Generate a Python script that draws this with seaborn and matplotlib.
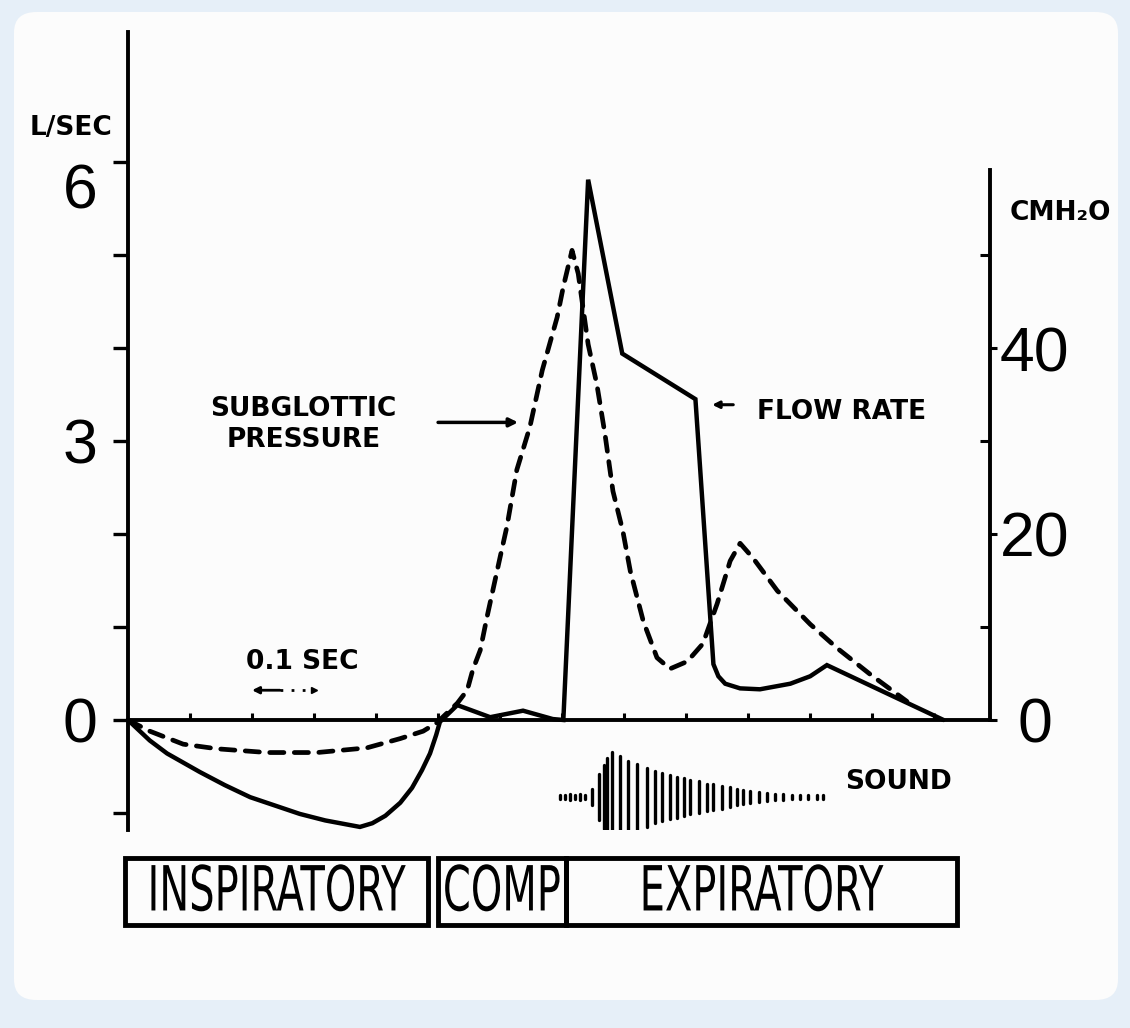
import matplotlib
matplotlib.use("Agg")
import matplotlib.pyplot as plt
from matplotlib.patches import FancyBboxPatch
from matplotlib import patheffects
from matplotlib.transforms import Affine2D
import seaborn as sns
import numpy as np
import pandas as pd

# ------------------------------------ Dados ------------------------------------

# Fluxo (L/s) - linha cheia, tempo em segundos
tempo_fluxo = [0.0, 0.035, 0.063, 0.116, 0.156, 0.197, 0.237, 0.277, 0.318, 0.358, 0.374,
               0.394, 0.415, 0.439, 0.458, 0.474, 0.487, 0.497, 0.503,
               0.531, 0.584, 0.637, 0.685, 0.702, 0.742, 0.797, 0.915, 0.944,
               0.952, 0.963, 0.987, 1.019, 1.068, 1.100, 1.127, 1.315]
fluxo = [0.0, -0.22, -0.36, -0.56, -0.70, -0.83, -0.92, -1.01, -1.08, -1.13, -1.15,
         -1.11, -1.03, -0.89, -0.73, -0.54, -0.36, -0.16, -0.02,
         0.16, 0.03, 0.10, 0.01, 0.0, 5.81, 3.94, 3.45, 0.60,
         0.47, 0.39, 0.34, 0.33, 0.39, 0.47, 0.59, 0.0]

# Pressao subglotica (cmH2O) - linha tracejada
tempo_pressao = [0.0, 0.035, 0.089, 0.144, 0.224, 0.305, 0.385, 0.439, 0.476, 0.498,
                 0.531, 0.547, 0.556, 0.568, 0.579, 0.600, 0.611, 0.627, 0.648, 0.668,
                 0.692, 0.702, 0.716, 0.726, 0.742, 0.756, 0.769, 0.782, 0.798, 0.810,
                 0.831, 0.853, 0.874, 0.902, 0.927, 0.950, 0.971, 0.987, 1.008, 1.047,
                 1.100, 1.144, 1.197, 1.256]
pressao = [0.0, -1.2, -2.6, -3.1, -3.5, -3.5, -3.0, -2.0, -1.2, -0.3,
           1.8, 3.2, 5.4, 7.5, 11.1, 17.5, 20.8, 26.9, 31.5, 37.6,
           43.3, 46.6, 50.5, 48.0, 40.4, 36.1, 30.8, 24.6, 20.3, 16.0,
           10.6, 6.7, 5.5, 6.3, 8.2, 12.5, 17.1, 19.0, 17.4, 13.9,
           10.3, 7.7, 4.9, 2.0]

# Som (amplitude relativa)
tempo_som = [0.697, 0.705, 0.713, 0.721, 0.729, 0.737, 0.748, 0.759, 0.767, 0.773,
             0.780, 0.794, 0.807, 0.820, 0.837, 0.850, 0.861, 0.874, 0.885, 0.896,
             0.906, 0.920, 0.933, 0.944, 0.958, 0.971, 0.982, 0.992, 1.003, 1.017,
             1.030, 1.044, 1.057, 1.070, 1.084, 1.097, 1.111, 1.121]
amplitude_som = [0.05, 0.05, 0.06, 0.05, 0.06, 0.05, 0.18, 0.50, 0.70, 0.85,
                 1.00, 0.90, 0.80, 0.72, 0.65, 0.57, 0.53, 0.48, 0.45, 0.42,
                 0.38, 0.35, 0.30, 0.28, 0.25, 0.22, 0.17, 0.16, 0.13, 0.11,
                 0.09, 0.07, 0.06, 0.05, 0.05, 0.05, 0.05, 0.05]

# Fases da tosse
fases = ["INSPIRATORY", "COMP", "EXPIRATORY"]
inicio_fase = [-0.005, 0.500, 0.706]
fim_fase = [0.484, 0.706, 1.337]

# Eixos
ticks_fluxo = [0, 3, 6]
ticks_fluxo_menores = [-1, 1, 2, 4, 5]
ticks_pressao = [0, 20, 40]
ticks_pressao_menores = [10, 30, 50]
ticks_tempo = [0.1, 0.2, 0.3, 0.4, 0.5, 0.6, 0.7, 0.8, 0.9, 1.0, 1.1, 1.2, 1.3]

df_fluxo = pd.DataFrame({"tempo": tempo_fluxo, "fluxo": fluxo})
df_pressao = pd.DataFrame({"tempo": tempo_pressao, "pressao": pressao})


# efeito para deixar as letras das fases mais altas (fonte condensada da figura)
class Esticar(patheffects.AbstractPathEffect):
    def __init__(self, fator):
        super().__init__()
        self.fator = fator

    def draw_path(self, renderer, gc, tpath, affine, rgbFace=None):
        caixa = tpath.get_extents()
        meio = caixa.y0 + caixa.height / 2
        estica = Affine2D().translate(0, -meio).scale(1, self.fator).translate(0, meio)
        renderer.draw_path(gc, tpath, estica + affine, rgbFace)


# ------------------------------------ Figura ------------------------------------

sns.set_style("white")
plt.rcParams["font.family"] = ["DejaVu Sans"]
plt.rcParams.update({"text.color": "black", "axes.edgecolor": "black", "xtick.color": "black",
                     "ytick.color": "black", "axes.labelcolor": "black"})

fig = plt.figure(figsize=(11.3, 10.28), dpi=100)
fig.patch.set_facecolor("#e6eff8")
fundo = FancyBboxPatch((14 / 1130, 1 - 1000 / 1028), 1104 / 1130, 988 / 1028,
                       boxstyle="round,pad=0,rounding_size=0.02", transform=fig.transFigure,
                       facecolor="#fcfcfc", edgecolor="none", zorder=-10)
fig.patches.append(fundo)

ax = fig.add_axes([128 / 1130, 198 / 1028, 862 / 1130, 798 / 1028])
ax.set_facecolor("none")
ylim_fluxo = (-1.183, 7.398)
ax.set_xlim(0, 1.39)
ax.set_ylim(ylim_fluxo)

# curva do fluxo
sns.lineplot(data=df_fluxo, x="tempo", y="fluxo", ax=ax, color="black", linewidth=3.2,
             estimator=None, sort=False, solid_joinstyle="miter")

# eixo da direita para a pressao
ax2 = ax.twinx()
ax2.set_facecolor("none")
ax2.set_ylim(ylim_fluxo[0] * 10, ylim_fluxo[1] * 10)
sns.lineplot(data=df_pressao, x="tempo", y="pressao", ax=ax2, color="black", linewidth=3.4,
             estimator=None, sort=False, linestyle=(0, (3.0, 2.2)), dash_capstyle="round")

# som
centro_som = -0.83
meia_altura = 0.49
barras = ax.vlines(tempo_som, [centro_som - a * meia_altura for a in amplitude_som],
                   [centro_som + a * meia_altura for a in amplitude_som],
                   color="black", linewidth=2.4)
barras.set_capstyle("round")

# spines
for lado in ["top", "right"]:
    ax.spines[lado].set_visible(False)
for lado in ["top", "left", "bottom"]:
    ax2.spines[lado].set_visible(False)
ax.spines["left"].set_linewidth(2.8)
ax.spines["bottom"].set_position(("data", 0))
ax.spines["bottom"].set_bounds(0, 1.39)
ax.spines["bottom"].set_linewidth(2.8)
ax2.spines["right"].set_linewidth(2.8)
ax2.spines["right"].set_bounds(0, 59.1)

# ticks da esquerda
ax.set_yticks(ticks_fluxo)
ax.set_yticks(ticks_fluxo_menores, minor=True)
ax.set_yticklabels([str(t) for t in ticks_fluxo], fontsize=45, family="Liberation Sans")
ax.tick_params(axis="y", which="both", direction="out", length=11, width=2.4, pad=11, left=True,
               color="black", labelcolor="black")
ax.get_yticklabels()[2].set_verticalalignment("top")

# ticks do tempo (para cima)
ax.set_xticks(ticks_tempo)
ax.tick_params(axis="x", which="major", direction="in", length=5, width=2.2, bottom=True,
               labelbottom=False, color="black")
ax.set_xlabel("")
ax.set_ylabel("")

# ticks da direita
ax2.set_yticks(ticks_pressao)
ax2.set_yticks(ticks_pressao_menores, minor=True)
ax2.set_yticklabels([str(t) for t in ticks_pressao], fontsize=45, family="Liberation Sans")
ax2.tick_params(axis="y", which="major", direction="out", length=5, width=2.2, pad=27, right=True,
                color="black", labelcolor="black")
ax2.tick_params(axis="y", which="minor", direction="in", length=7, width=2.2, right=True,
                color="black")
for rotulo in ax2.get_yticklabels():
    rotulo.set_horizontalalignment("center")
ax2.set_ylabel("")

# textos
negrito = dict(fontweight="bold", fontsize=19, color="black")
ax.text(0.283, 3.18, "SUBGLOTTIC\nPRESSURE", ha="center", va="center", linespacing=1.25, **negrito)
ax.annotate("", xy=(0.629, 3.2), xytext=(0.50, 3.2),
            arrowprops=dict(arrowstyle="-|>,head_length=0.5,head_width=0.25", lw=2.5,
                            color="black", shrinkA=0, shrinkB=0))
ax.text(1.015, 3.31, "FLOW RATE", ha="left", va="center", **negrito)
ax.annotate("", xy=(0.942, 3.39), xytext=(0.976, 3.39),
            arrowprops=dict(arrowstyle="-|>,head_length=0.4,head_width=0.2", lw=2.2,
                            color="black", shrinkA=0, shrinkB=0))
ax.text(0.281, 0.62, "0.1 SEC", ha="center", va="center", **negrito)
ax.annotate("", xy=(0.2, 0.32), xytext=(0.245, 0.32),
            arrowprops=dict(arrowstyle="-|>,head_length=0.4,head_width=0.2", lw=2.0,
                            color="black", shrinkA=0, shrinkB=0))
ax.plot([0.245, 0.297], [0.32, 0.32], color="black", lw=2.0, linestyle=(0, (1, 3)))
ax.plot([0.3], [0.32], marker=">", markersize=5, color="black")
ax.text(1.156, -0.67, "SOUND", ha="left", va="center", **negrito)

fig.text(71 / 1130, 1 - 128 / 1028, "L/SEC", ha="center", va="center", **negrito)
fig.text(1060 / 1130, 1 - 213 / 1028, "CMH₂O", ha="center", va="center", **negrito)

# caixas das fases
ax_fase = fig.add_axes([128 / 1130, 103 / 1028, 862 / 1130, 67 / 1028], sharex=ax)
ax_fase.set_ylim(-0.5, 0.5)
larguras = [f - i for i, f in zip(inicio_fase, fim_fase)]
caixas = ax_fase.barh([0, 0, 0], larguras, left=inicio_fase, height=1, fill=False,
                      edgecolor="black", linewidth=3.5)
for caixa in caixas:
    caixa.set_clip_on(False)
for nome, i, f in zip(fases, inicio_fase, fim_fase):
    ax_fase.text((i + f) / 2, 0.0, nome, ha="center", va="center", fontsize=32,
                 family="DejaVu Sans", fontstretch="condensed", color="black",
                 path_effects=[Esticar(1.4)])
ax_fase.axis("off")

plt.savefig("out.png", dpi=100, facecolor=fig.get_facecolor())
